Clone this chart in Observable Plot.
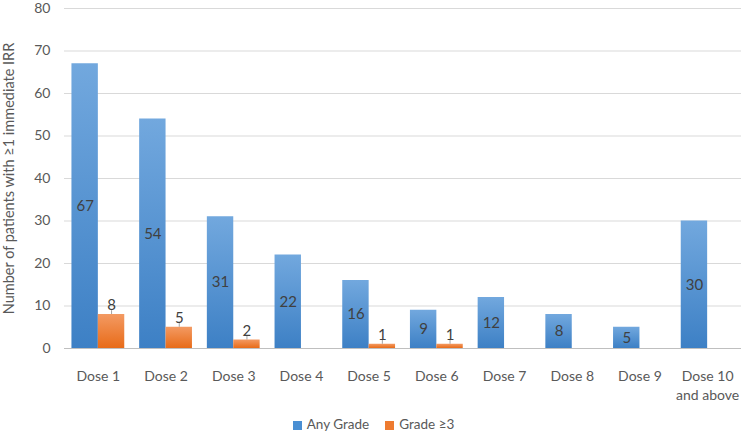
<!DOCTYPE html>
<html>
<head>
<meta charset="utf-8">
<script src="https://cdn.jsdelivr.net/npm/d3@7"></script>
<script src="https://cdn.jsdelivr.net/npm/@observablehq/plot@0.6"></script>
<style>
  body { margin: 0; background: #fff; font-family: Lato, "Open Sans", sans-serif; }
  #chart { width: 743px; }
  .legend { display: flex; justify-content: center; gap: 16px; font-size: 13.5px; color: #595959; height: 25px; align-items: center; margin-top: 6px; padding-left: 4px; }
  .legend span.sw { display: inline-block; width: 9px; height: 9px; margin-right: 5px; vertical-align: -1px; }
</style>
</head>
<body>
<div id="chart"></div>
<script>
const doses = ["Dose 1", "Dose 2", "Dose 3", "Dose 4", "Dose 5", "Dose 6", "Dose 7", "Dose 8", "Dose 9", "Dose 10\nand above"];
const anyGrade = [67, 54, 31, 22, 16, 9, 12, 8, 5, 30];
const grade3 = [8, 5, 2, null, 1, 1, null, null, null, null];
const yTicks = [0, 10, 20, 30, 40, 50, 60, 70, 80];
const seriesNames = ["Any Grade", "Grade ≥3"];

const anyData = doses.map((d, i) => ({dose: d, value: anyGrade[i]}));
const g3Data = doses.map((d, i) => ({dose: d, value: grade3[i]})).filter(d => d.value != null);

const W = 743, H = 405, ML = 64, MR = 2, MT = 8;
const padIn = 0.22, padOut = 0.11;
const step = (W - ML - MR) / (doses.length - padIn + 2 * padOut);
const half = step * (1 - padIn) / 2;

const plot = Plot.plot({
  width: W,
  height: H,
  marginLeft: ML,
  marginRight: MR,
  marginTop: MT,
  marginBottom: H - 348,
  style: {fontFamily: "Lato, 'Open Sans', sans-serif", fontSize: "14px", color: "#595959", background: "#fff"},
  x: {domain: doses, paddingInner: padIn, paddingOuter: padOut, round: false, axis: null},
  y: {domain: [0, 80], axis: null},
  marks: [
    Plot.gridY(yTicks, {stroke: "#d9d9d9", strokeOpacity: 1, strokeWidth: 1}),
    Plot.axisY(yTicks, {tickSize: 0, tickPadding: 14, fontSize: 14, fill: "#595959", label: null}),
    Plot.axisX({tickSize: 0, tickPadding: 20, lineAnchor: "top", lineHeight: 1.3, fontSize: 14, fill: "#595959", label: null}),
    Plot.barY(anyData, {x: "dose", y: "value", fill: "url(#gradBlue)", insetRight: half}),
    Plot.barY(g3Data, {x: "dose", y: "value", fill: "url(#gradOrange)", insetLeft: half}),
    Plot.ruleY([0], {stroke: "#bfbfbf", strokeWidth: 1.2}),
    Plot.text(anyData, {x: "dose", y: d => d.value / 2, text: d => String(d.value), dx: -half / 2, fill: "#404040", fontSize: 15}),
    Plot.ruleX(g3Data, {x: "dose", y1: "value", y2: d => d.value + 0.9, dx: half / 2, stroke: "#8c8c8c", strokeWidth: 0.8}),
    Plot.text(g3Data, {x: "dose", y: "value", text: d => String(d.value), dx: half / 2, dy: -9, fill: "#404040", fontSize: 15}),
    Plot.text(["Number of patients with ≥1 immediate IRR"], {frameAnchor: "left", rotate: -90, dx: -55, fontSize: 14.5, fill: "#595959", textAnchor: "middle"})
  ]
});

const defs = d3.select(plot).insert("defs", ":first-child");
function grad(id, top, bottom) {
  const g = defs.append("linearGradient").attr("id", id).attr("x1", 0).attr("y1", 0).attr("x2", 0).attr("y2", 1);
  g.append("stop").attr("offset", "0%").attr("stop-color", top);
  g.append("stop").attr("offset", "100%").attr("stop-color", bottom);
}
grad("gradBlue", "#72a8de", "#3d80c5");
grad("gradOrange", "#f39a63", "#e86b18");

document.getElementById("chart").appendChild(plot);

const legend = d3.select("#chart").append("div").attr("class", "legend");
const colors = ["#4a8fd3", "#ee7b30"];
seriesNames.forEach((n, i) => {
  const item = legend.append("div");
  item.append("span").attr("class", "sw").style("background", colors[i]);
  item.append("span").text(n);
});
</script>
</body>
</html>
